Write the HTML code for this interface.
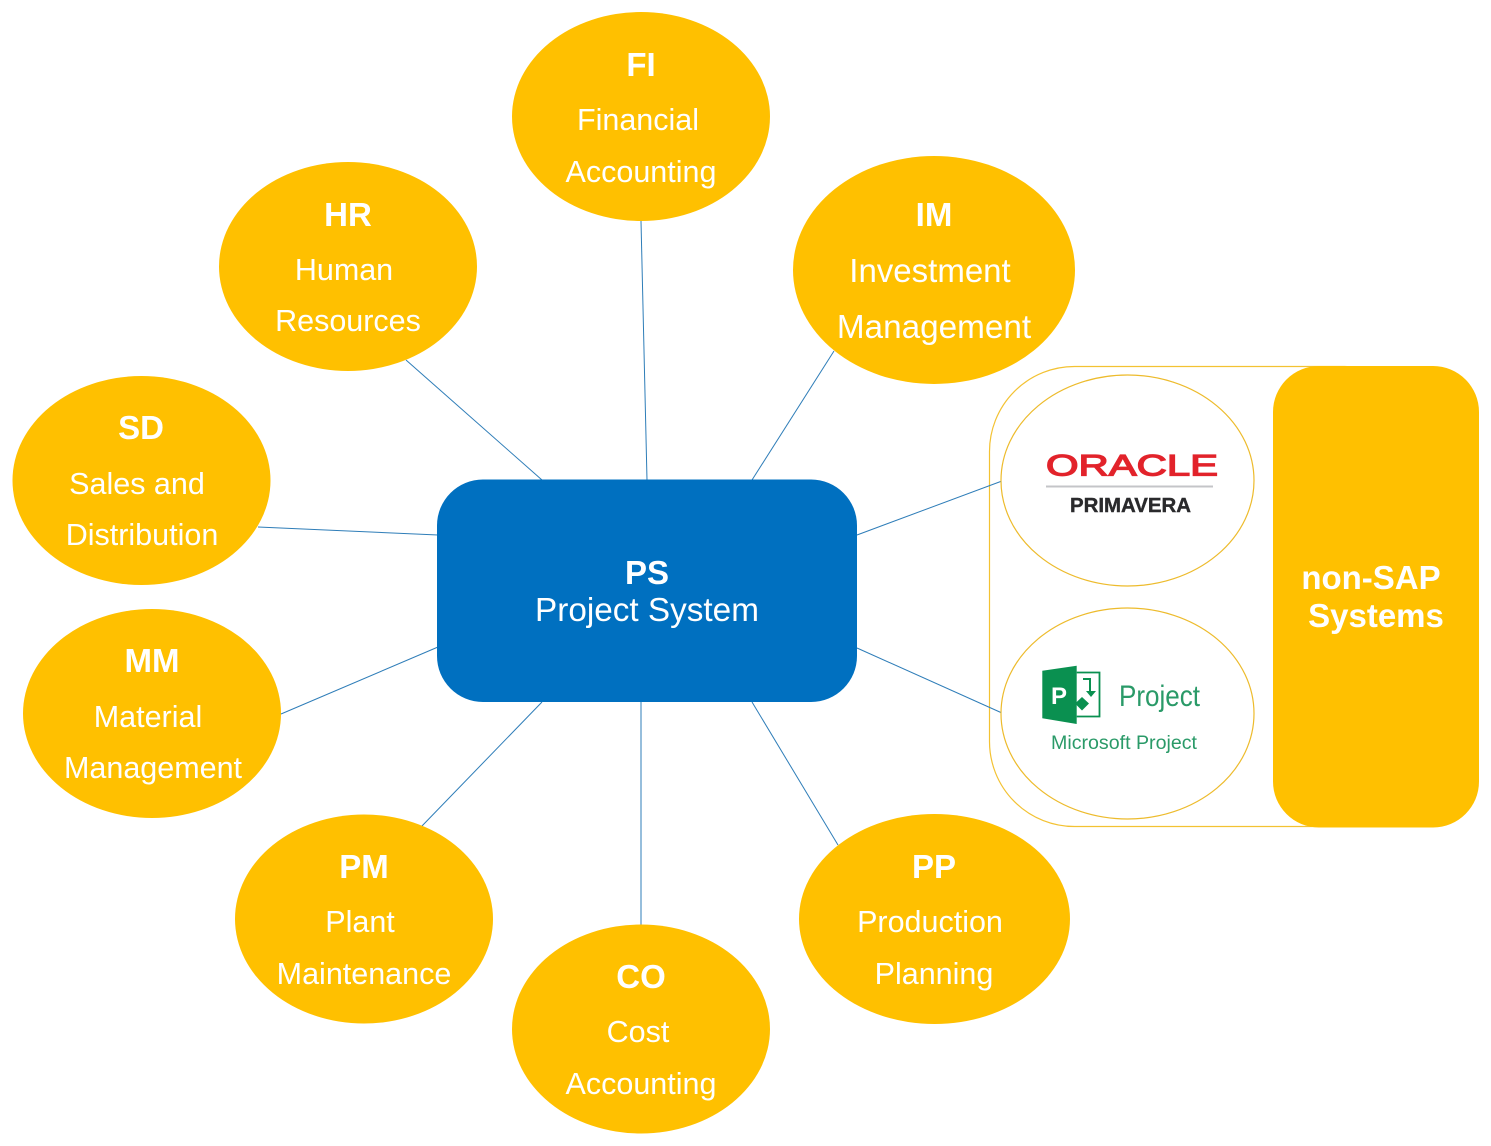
<!DOCTYPE html>
<html><head><meta charset="utf-8"><style>
html,body{margin:0;padding:0;background:#fff;width:1491px;height:1146px;overflow:hidden}
svg{display:block}
text{font-family:"Liberation Sans",Arial,sans-serif;fill:#fff;text-anchor:middle}
.b{font-weight:bold;font-size:33px}
.r{font-size:30.5px}
</style></head><body>
<svg width="1491" height="1146" viewBox="0 0 1491 1146" xmlns="http://www.w3.org/2000/svg">
<g stroke="#2E7DB8" stroke-width="1" fill="none">
<line x1="641" y1="221" x2="647" y2="480"/>
<line x1="406" y1="360" x2="542" y2="480"/>
<line x1="834" y1="351" x2="752" y2="480"/>
<line x1="258" y1="527" x2="438" y2="535"/>
<line x1="281" y1="714" x2="438" y2="647"/>
<line x1="421" y1="827" x2="542" y2="702"/>
<line x1="641" y1="702" x2="641" y2="925"/>
<line x1="752" y1="702" x2="838" y2="845"/>
</g>
<rect x="437" y="479.500" width="420" height="222.500" rx="46" ry="46" fill="#0070C0"/>
<g fill="#FFC000">
<ellipse cx="641" cy="116.500" rx="129" ry="104.500"/>
<ellipse cx="348" cy="266.500" rx="129" ry="104.500"/>
<ellipse cx="934" cy="270" rx="141" ry="114"/>
<ellipse cx="141.500" cy="480.500" rx="129" ry="104.500"/>
<ellipse cx="152" cy="713.500" rx="129" ry="104.500"/>
<ellipse cx="364" cy="919" rx="129" ry="104.500"/>
<ellipse cx="641" cy="1029" rx="129" ry="104.500"/>
<ellipse cx="934.500" cy="919" rx="135.500" ry="105"/>
</g>
<rect x="989.500" y="366.500" width="440" height="460" rx="85" ry="85" fill="#fff" stroke="#F3C233" stroke-width="1.200"/>
<rect x="1273" y="366" width="206" height="461.500" rx="46" ry="46" fill="#FFC000"/>
<g stroke="#2E7DB8" stroke-width="1" fill="none">
<line x1="857" y1="535" x2="1002" y2="481"/>
<line x1="857" y1="648" x2="1002" y2="713"/>
</g>
<ellipse cx="1127.500" cy="480.500" rx="126.500" ry="105.500" fill="#fff" stroke="#EDBB2C" stroke-width="1.200"/>
<ellipse cx="1127.500" cy="713.500" rx="126.500" ry="105.500" fill="#fff" stroke="#EDBB2C" stroke-width="1.200"/>

<text class="b" x="641" y="76">FI</text>
<text class="r" x="638" y="130">Financial</text>
<text class="r" x="641" y="182">Accounting</text>

<text class="b" x="348" y="226">HR</text>
<text class="r" x="344" y="280">Human</text>
<text class="r" x="348" y="331">Resources</text>

<text class="b" x="934" y="226">IM</text>
<text class="r" x="930" y="282" style="font-size:33px">Investment</text>
<text class="r" x="934" y="338" style="font-size:33.300px">Management</text>

<text class="b" x="141" y="439">SD</text>
<text class="r" x="137" y="494">Sales and</text>
<text class="r" x="142" y="545">Distribution</text>

<text class="b" x="152" y="672">MM</text>
<text class="r" x="148" y="727">Material</text>
<text class="r" x="153" y="778">Management</text>

<text class="b" x="364" y="878">PM</text>
<text class="r" x="360" y="932">Plant</text>
<text class="r" x="364" y="984">Maintenance</text>

<text class="b" x="641" y="988">CO</text>
<text class="r" x="638" y="1042">Cost</text>
<text class="r" x="641" y="1094">Accounting</text>

<text class="b" x="934" y="878">PP</text>
<text class="r" x="930" y="932">Production</text>
<text class="r" x="934" y="984">Planning</text>

<text class="b" x="647" y="584">PS</text>
<text x="647" y="621" style="font-size:33.300px">Project System</text>

<text class="b" x="1371" y="589">non-SAP</text>
<text class="b" x="1376" y="627">Systems</text>

<text x="1132" y="475.500" textLength="172" lengthAdjust="spacingAndGlyphs" style="font-size:30px;fill:#E2232B;stroke:#E2232B;stroke-width:1.300">ORACLE</text>
<rect x="1046" y="485.500" width="167" height="2" fill="#C4C5C8"/>
<text x="1130.500" y="512" textLength="121" lengthAdjust="spacingAndGlyphs" style="font-size:20.500px;font-weight:bold;fill:#2A2A2C;stroke:#2A2A2C;stroke-width:.4">PRIMAVERA</text>

<polygon points="1042.300,670.700 1076.700,665.700 1076.700,724 1042.300,718.300" fill="#0A9050"/>
<path d="M1076.700 672.500H1099.500V716.500H1076.700" fill="none" stroke="#0A9050" stroke-width="1.800"/>
<text x="1059" y="704" style="font-size:24px;font-weight:bold">P</text>
<path d="M1083 678H1091V691H1096L1091 697L1086 691H1089V680H1083Z" fill="#0A9050"/>
<polygon points="1082,697 1089,703.500 1082,710.500 1075,703.500" fill="#0A9050"/>
<text x="1159.500" y="706" textLength="81" lengthAdjust="spacingAndGlyphs" style="font-size:30px;fill:#2A9A68">Project</text>
<text x="1124" y="749" textLength="146" lengthAdjust="spacingAndGlyphs" style="font-size:19px;fill:#2A9A68">Microsoft Project</text>
</svg>
</body></html>
